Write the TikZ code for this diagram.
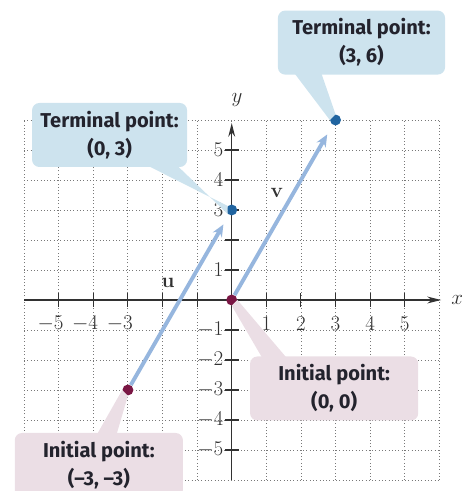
\documentclass[tikz,border=0pt]{standalone}
\usepackage{fontspec}
\newfontfamily\calloutfont{Fira Sans}
\usetikzlibrary{arrows.meta,positioning,calc}
\definecolor{VecBlue}{RGB}{150,182,222}
\definecolor{VecMaroon}{RGB}{122,22,68}
\definecolor{VecDot}{RGB}{32,100,160}
\definecolor{VecCallBlue}{RGB}{205,227,238}
\definecolor{VecCallPink}{RGB}{235,222,229}
\definecolor{VecInk}{RGB}{35,35,45}
\definecolor{VecGrid}{RGB}{120,120,120}
\definecolor{VecAxis}{RGB}{50,50,50}
\tikzset{
  vec/grid/.style={draw=VecGrid, dotted, line width=0.7pt},
  vec/axis/.style={draw=VecAxis, line width=1.1pt, -{Stealth[length=4mm,width=2mm]}},
  vec/tick/.style={draw=VecAxis, line width=0.9pt},
  vec/ticklabel/.style={font=\fontsize{17}{17}\selectfont, text=VecAxis, inner sep=1pt},
  vec/arrow/.style={draw=VecBlue, line width=3.2pt, -{Stealth[length=3.5mm,width=3mm]}, shorten >=9pt},
  vec/initial/.style={circle, fill=VecMaroon, inner sep=0pt, minimum size=9pt},
  vec/terminal/.style={circle, fill=VecDot, inner sep=0pt, minimum size=9pt},
  vec/callout/.style={
    rounded corners=6pt,
    align=center,
    text=VecInk,
    minimum height=1.85cm,
    font=\calloutfont\bfseries\fontsize{16.5}{23}\selectfont
  },
  vec/bluecall/.style={vec/callout, fill=VecCallBlue},
  vec/pinkcall/.style={vec/callout, fill=VecCallPink},
  vec/name/.style={font=\fontsize{17}{17}\selectfont\bfseries, text=VecAxis}
}
\begin{document}
\begin{tikzpicture}[x=1cm,y=0.867cm]
  \useasboundingbox (-6.697,-6.367) rectangle (6.916,10.0);
  % grid
  \foreach \k in {-6,...,6}{
    \draw[vec/grid] (\k,-6) -- (\k,6);
    \draw[vec/grid] (-6,\k) -- (6,\k);
  }
  % axes and ticks
  \draw[vec/axis] (-6,0) -- (6.05,0);
  \draw[vec/axis] (0,-6) -- (0,5.9);
  \node[vec/ticklabel] (xlab) at (6.52,0) {$x$};
  \node[vec/ticklabel] (ylab) at (0.15,6.67) {$y$};
  \foreach \k in {-5,...,-1,1,2,...,5}{
    \draw[vec/tick] (\k,-0.22) -- (\k,0.22);
    \draw[vec/tick] (-0.2,\k) -- (0.2,\k);
  }
  \foreach \k in {1,...,5}{
    \node[vec/ticklabel] (xl\k) at (\k,-0.78) {$\k$};
  }
  \foreach \k in {3,4,5}{
    \node[vec/ticklabel] (xm\k) at (-\k,-0.78) {\llap{$-$}$\k$};
  }
  \foreach \k in {1,3,4,5}{
    \node[vec/ticklabel, anchor=east] (yl\k) at (-0.2,\k) {$\k$};
  }
  \foreach \k in {1,...,5}{
    \node[vec/ticklabel, anchor=east] (ym\k) at (-0.2,-\k) {$-\k$};
  }
  % callouts
  \node[vec/bluecall, minimum width=4.48cm] (callU1) at (-3.53,5.5) {Terminal point:\\(0, 3)};
  \node[vec/bluecall, minimum width=4.83cm] (callV1) at (3.75,8.58) {Terminal point:\\(3, 6)};
  \node[vec/pinkcall, minimum width=4.86cm] (callV0) at (2.96,-2.95) {Initial point:\\(0, 0)};
  \node[vec/pinkcall, minimum width=4.86cm] (callU0) at (-3.84,-5.5) {Initial point:\\(–3, –3)};
  % points
  \node[vec/initial] (u0) at (-3,-3) {};
  \node[vec/terminal] (u1) at (0,3) {};
  \node[vec/initial] (v0) at (0,0) {};
  \node[vec/terminal] (v1) at (3,6) {};
  % pointers
  \fill[VecCallBlue] ([shift={(-8pt,1pt)}]callU1.south east) -- (u1.south west) -- (u1.north west) -- ([shift={(-32pt,1pt)}]callU1.south east) -- cycle;
  \fill[VecCallBlue] ([shift={(14pt,1pt)}]callV1.south west) -- (v1.west) -- (v1.north) -- ([shift={(36pt,1pt)}]callV1.south west) -- cycle;
  \fill[VecCallPink] ([shift={(10pt,-1pt)}]callV0.north west) -- (v0.south) -- (v0.east) -- ([shift={(30pt,-1pt)}]callV0.north west) -- cycle;
  \fill[VecCallPink] ([shift={(68pt,-1pt)}]callU0.north west) -- (u0.west) -- (u0.south) -- ([shift={(84pt,-1pt)}]callU0.north west) -- cycle;
  % vectors
  \draw[vec/arrow] (u0) -- (u1);
  \draw[vec/arrow] (v0) -- (v1);
  \node[vec/name] (ulab) at (-1.84,0.57) {u};
  \node[vec/name] (vlab) at (1.3,3.57) {v};
\end{tikzpicture}
\end{document}
